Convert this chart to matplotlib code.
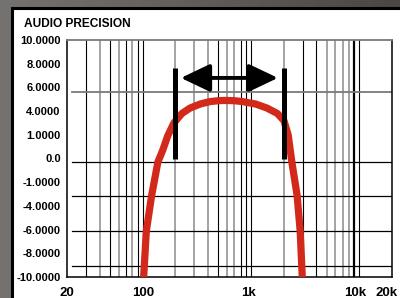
import numpy as np
import matplotlib.pyplot as plt
from matplotlib.patches import Rectangle
from matplotlib.colors import LinearSegmentedColormap
from matplotlib.transforms import ScaledTranslation

plt.rcParams['font.family'] = ['Liberation Sans', 'DejaVu Sans']

# frequency response (Hz, dB)
freq = [98, 102, 108, 121, 138, 153, 170, 194, 230, 274, 340, 417, 500, 575,
        700, 835, 1100, 1400, 1750, 2010, 2200, 2380, 2660, 2840, 2970, 3050]
gain = [-12, -10, -6.1, -3.1, -0.3, 0.7, 1.9, 3.0, 3.8, 4.26, 4.6, 4.8, 4.88, 4.9,
        4.88, 4.8, 4.6, 4.26, 3.8, 3.2, 2.0, -0.3, -3.1, -6.1, -10, -12]

# band markers and arrow
band_lo, band_hi = 200, 2000
bar_bottom, bar_top = 0.0, 7.6
arrow_y = 6.8
arrow_from, arrow_to = 225, 1770

# axis labels
ytick_vals = [-10, -8, -6, -4, -2, 0, 2, 4, 6, 8, 10]
ytick_text = ['-10.0000', '-8.0000', '-6.0000', '-4.0000', '-1.0000', '0.0',
              '1.0000', '4.0000', '6.0000', '8.0000', '10.0000']
xtick_vals = [20, 100, 1000, 10000, 20000]
xtick_text = ['20', '100', '1k', '10k', '20k']

# grid lines
vgrid_black = [30, 50, 70, 90, 100, 500, 800, 900, 1000, 3000, 4000, 10000]
vgrid_gray = [40, 60, 80, 200, 300, 400, 600, 700, 2000, 5000, 6000, 7000, 8000]
vgrid_thick = [9000]
hgrid_black = [-0.3, -3.16, -6.12, -9.07]
hgrid_gray = [5.61]

fig = plt.figure(figsize=(4, 2.98), dpi=100)

# gray frame with a slight gradient
bg = fig.add_axes([0, 0, 1, 1])
grad = np.linspace(0, 1, 256).reshape(1, -1)
cmap = LinearSegmentedColormap.from_list('frame', ['#767270', '#4a4745'])
bg.imshow(grad, aspect='auto', cmap=cmap, extent=[0, 1, 0, 1])
bg.set_axis_off()

fig.patches.append(Rectangle((11.5 / 400, -0.05), 1.1, 1 - 8 / 298 + 0.05,
                             transform=fig.transFigure, facecolor='white',
                             edgecolor='black', linewidth=2.2, zorder=1))

fig.text(24 / 400, 1 - 27 / 298, 'AUDIO PRECISION', fontsize=8.6,
         fontweight='bold', va='baseline', ha='left', zorder=5)

ax = fig.add_axes([67 / 400, 21 / 298, 325 / 400, 237 / 298])
ax.set_zorder(3)
ax.set_xscale('log')
ax.set_xlim(20, 20000)
ax.set_ylim(-10, 10)

for f in vgrid_black:
    ax.axvline(f, color='black', lw=0.8, zorder=1)
for f in vgrid_gray:
    ax.axvline(f, color='#8a8a8a', lw=1.1, zorder=1)
for f in vgrid_thick:
    ax.axvline(f, color='black', lw=1.6, zorder=1)
for v in hgrid_black:
    ax.axhline(v, xmin=0.015, color='black', lw=0.9, zorder=1)
for v in hgrid_gray:
    ax.axhline(v, xmin=0.015, color='#7a7a7a', lw=1.3, zorder=1)

ax.plot(freq, gain, color='#d3291b', lw=5.2, solid_capstyle='butt',
        solid_joinstyle='round', zorder=3)

for f in (band_lo, band_hi):
    ax.plot([f, f], [bar_bottom, bar_top], color='black', lw=3.6,
            solid_capstyle='butt', zorder=4)

ax.annotate('', xy=(arrow_to, arrow_y), xytext=(arrow_from, arrow_y),
            arrowprops=dict(arrowstyle='<|-|>,head_length=1.05,head_width=0.5',
                            mutation_scale=17, lw=2.8, color='black',
                            shrinkA=0, shrinkB=0), zorder=5)

ax.set_yticks(ytick_vals)
ax.set_yticklabels(ytick_text, fontsize=8, fontweight='bold')
ax.set_xticks(xtick_vals)
ax.set_xticklabels(xtick_text, fontsize=9.5, fontweight='bold')
ax.minorticks_off()
ax.tick_params(axis='y', length=0, pad=4.5)
ax.tick_params(axis='x', length=0, pad=7)

# nudge the k labels a little left, as in the original
xlabels = ax.get_xticklabels()
for lab, dx in zip(xlabels[2:], (-3, -4, -5)):
    lab.set_transform(lab.get_transform() + ScaledTranslation(dx / 100, 0, fig.dpi_scale_trans))

for side in ('left', 'right', 'bottom'):
    ax.spines[side].set_color('black')
    ax.spines[side].set_linewidth(1.1)
ax.spines['top'].set_color('#7a7a7a')
ax.spines['top'].set_linewidth(1.3)

fig.savefig('out.png', dpi=100)
